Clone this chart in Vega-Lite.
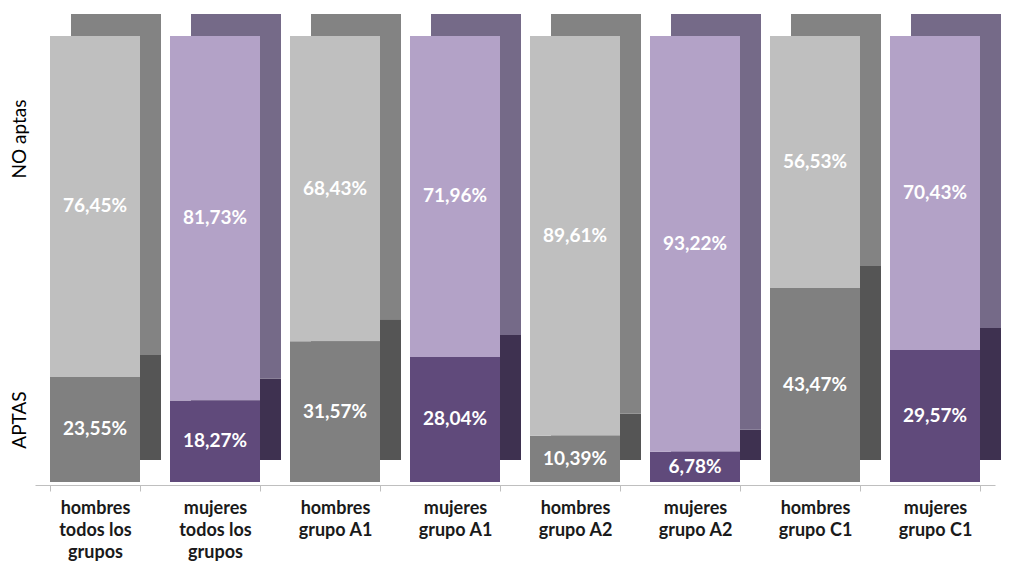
{
  "$schema": "https://vega.github.io/schema/vega-lite/v6.json",
  "width": 960,
  "height": 446,
  "autosize": "none",
  "padding": {"left": 35, "top": 36, "right": 17, "bottom": 80},
  "background": "white",
  "config": {
    "view": {"stroke": null},
    "locale": {"number": {"decimal": ",", "thousands": ".", "grouping": [3], "currency": ["", " €"]}},
    "font": "Lato"
  },
  "data": {
    "values": [
      {"cat": "hombres todos los grupos", "serie": "hombres APTAS", "ord": 1, "value": 0.2355},
      {"cat": "hombres todos los grupos", "serie": "hombres NO aptas", "ord": 2, "value": 0.7645},
      {"cat": "mujeres todos los grupos", "serie": "mujeres APTAS", "ord": 1, "value": 0.1827},
      {"cat": "mujeres todos los grupos", "serie": "mujeres NO aptas", "ord": 2, "value": 0.8173},
      {"cat": "hombres grupo A1", "serie": "hombres APTAS", "ord": 1, "value": 0.3157},
      {"cat": "hombres grupo A1", "serie": "hombres NO aptas", "ord": 2, "value": 0.6843},
      {"cat": "mujeres grupo A1", "serie": "mujeres APTAS", "ord": 1, "value": 0.2804},
      {"cat": "mujeres grupo A1", "serie": "mujeres NO aptas", "ord": 2, "value": 0.7196},
      {"cat": "hombres grupo A2", "serie": "hombres APTAS", "ord": 1, "value": 0.1039},
      {"cat": "hombres grupo A2", "serie": "hombres NO aptas", "ord": 2, "value": 0.8961},
      {"cat": "mujeres grupo A2", "serie": "mujeres APTAS", "ord": 1, "value": 0.0678},
      {"cat": "mujeres grupo A2", "serie": "mujeres NO aptas", "ord": 2, "value": 0.9322},
      {"cat": "hombres grupo C1", "serie": "hombres APTAS", "ord": 1, "value": 0.4347},
      {"cat": "hombres grupo C1", "serie": "hombres NO aptas", "ord": 2, "value": 0.5653},
      {"cat": "mujeres grupo C1", "serie": "mujeres APTAS", "ord": 1, "value": 0.2957},
      {"cat": "mujeres grupo C1", "serie": "mujeres NO aptas", "ord": 2, "value": 0.7043}
    ]
  },
  "transform": [
    {"stack": "value", "groupby": ["cat"], "sort": [{"field": "ord", "order": "ascending"}], "as": ["v0", "v1"]}
  ],
  "encoding": {
    "x": {
      "field": "cat", "type": "nominal",
      "sort": ["hombres todos los grupos", "mujeres todos los grupos", "hombres grupo A1", "mujeres grupo A1", "hombres grupo A2", "mujeres grupo A2", "hombres grupo C1", "mujeres grupo C1"],
      "scale": {"paddingInner": 0.25, "paddingOuter": 0.125},
      "axis": {
        "title": null, "labelAngle": 0,
        "labelExpr": "indexof(datum.label,'todos') >= 0 ? [slice(datum.label,0,indexof(datum.label,' ')), 'todos los', 'grupos'] : [slice(datum.label,0,indexof(datum.label,' ')), slice(datum.label, indexof(datum.label,' ')+1)]",
        "labelFont": "Lato", "labelFontWeight": "bold", "labelFontSize": 18, "labelColor": "#1a1a1a",
        "labelLineHeight": 22, "labelPadding": 8, "labelBaseline": "top",
        "domainColor": "#bfbfbf", "tickColor": "#bfbfbf", "tickSize": 6, "offset": 3,
        "tickBand": "extent"
      }
    },
    "y": {
      "field": "v0", "type": "quantitative", "scale": {"domain": [0, 1]},
      "axis": {
        "title": null, "values": [0.14, 0.77],
        "labelExpr": "datum.value < 0.5 ? 'APTAS' : 'NO aptas'",
        "labelAngle": -90, "labelAlign": "center", "labelBaseline": "bottom",
        "labelFont": "Lato", "labelFontSize": 19, "labelColor": "#000000",
        "labelPadding": 6, "ticks": false, "domain": false, "grid": false
      }
    },
    "y2": {"field": "v1"}
  },
  "layer": [
    {
      "mark": {"type": "bar", "xOffset": 21, "x2Offset": 21, "yOffset": -22, "y2Offset": -22},
      "encoding": {
        "color": {
          "field": "serie", "type": "nominal", "legend": null,
          "scale": {"domain": ["hombres APTAS", "hombres NO aptas", "mujeres APTAS", "mujeres NO aptas"],
                    "range": ["#555555", "#838383", "#3e3150", "#756a88"]}
        }
      }
    },
    {
      "mark": {"type": "bar"},
      "encoding": {
        "color": {
          "field": "serie", "type": "nominal", "legend": null,
          "scale": {"domain": ["hombres APTAS", "hombres NO aptas", "mujeres APTAS", "mujeres NO aptas"],
                    "range": ["#808080", "#bfbfbf", "#604a7b", "#b3a2c7"]}
        }
      }
    },
    {
      "transform": [
        {"fold": ["v0", "v1"], "as": ["k", "pos"]},
        {"aggregate": [{"op": "mean", "field": "pos", "as": "mid"}, {"op": "max", "field": "value", "as": "value"}], "groupby": ["cat", "serie"]}
      ],
      "mark": {"type": "text", "color": "white", "font": "Lato", "fontWeight": "bold", "fontSize": 19, "baseline": "middle"},
      "encoding": {
        "y": {"field": "mid", "type": "quantitative"},
        "y2": null,
        "text": {"field": "value", "type": "quantitative", "format": ".2%"}
      }
    }
  ],
  "resolve": {"scale": {"color": "independent"}}
}
